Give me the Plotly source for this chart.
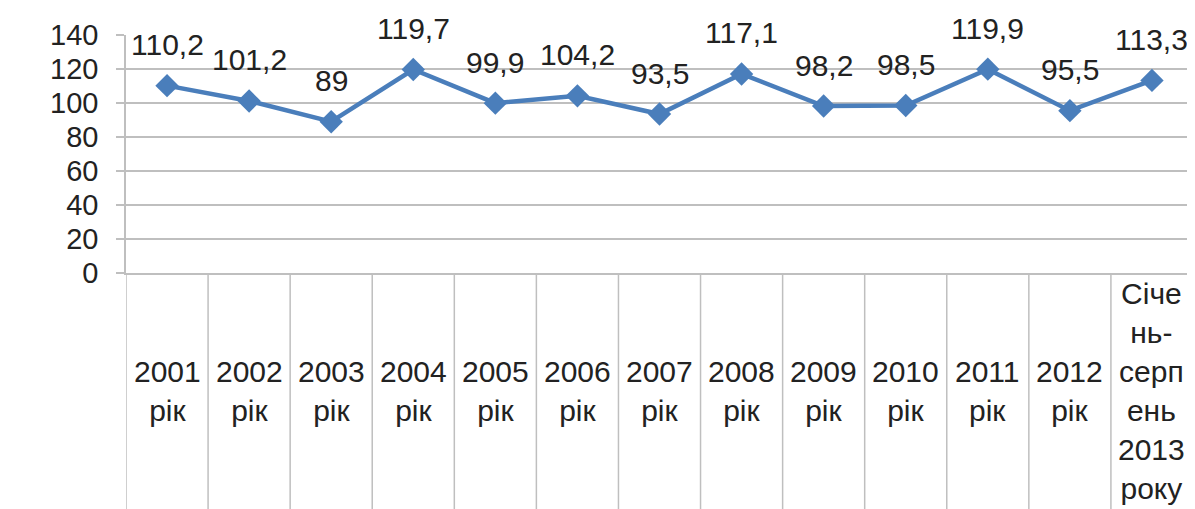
import plotly.graph_objects as go

categories = ["2001<br>рік", "2002<br>рік", "2003<br>рік", "2004<br>рік", "2005<br>рік",
              "2006<br>рік", "2007<br>рік", "2008<br>рік", "2009<br>рік", "2010<br>рік",
              "2011<br>рік", "2012<br>рік", "Січе<br>нь-<br>серп<br>ень<br>2013<br>року"]
values = [110.2, 101.2, 89, 119.7, 99.9, 104.2, 93.5, 117.1, 98.2, 98.5, 119.9, 95.5, 113.3]
value_labels = ["110,2", "101,2", "89", "119,7", "99,9", "104,2", "93,5", "117,1",
                "98,2", "98,5", "119,9", "95,5", "113,3"]
y_ticks = [0, 20, 40, 60, 80, 100, 120, 140]

# page body has an 8px default margin: size the figure to the visible window
OFF = 8
W, H = 1195 - OFF, 509 - OFF
ML, MR, MT, MB = 126 - OFF, 2, 35 - OFF, 236
plot_h = H - MT - MB
axis_bottom_px = H - MB

BLUE = "#4a7ebb"
GRID = "#bfbfbf"
TXT = "#222222"
FONT = "Liberation Sans, Arial, sans-serif"

fig = go.Figure()
fig.add_trace(go.Scatter(
    x=categories, y=values, mode="lines+markers",
    line=dict(color=BLUE, width=4.5),
    marker=dict(symbol="diamond", size=18, color=BLUE),
    cliponaxis=False, hoverinfo="skip", showlegend=False,
))

annotations = []
for c, v, t in zip(categories, values, value_labels):
    annotations.append(dict(x=c, y=v, xref="x", yref="y", text=t, showarrow=False,
                            yshift=41, yanchor="middle", xanchor="center",
                            font=dict(family=FONT, size=30, color=TXT)))
label_center = -(391 - OFF - axis_bottom_px) / plot_h
for c in categories:
    annotations.append(dict(x=c, y=label_center, xref="x", yref="paper", text=c,
                            showarrow=False, yanchor="middle", xanchor="center",
                            align="center",
                            font=dict(family=FONT, size=30, color=TXT)))

shapes = []
bottom = -(MB) / plot_h
for i in range(len(categories) + 1):
    shapes.append(dict(type="line", xref="x", yref="paper", x0=i - 0.5, x1=i - 0.5,
                       y0=0, y1=bottom, line=dict(color=GRID, width=1.5)))

fig.update_layout(
    width=W, height=H,
    margin=dict(l=ML, r=MR, t=MT, b=MB, autoexpand=False),
    paper_bgcolor="white", plot_bgcolor="white",
    font=dict(family=FONT, color=TXT),
    annotations=annotations, shapes=shapes,
    xaxis=dict(type="category", categoryorder="array", categoryarray=categories,
               range=[-0.5, len(categories) - 0.5], showticklabels=False,
               showgrid=False, zeroline=False, showline=True, linecolor=GRID,
               linewidth=1.5, ticks="", automargin=False),
    yaxis=dict(range=[0, 140], tickvals=y_ticks, showgrid=True, gridcolor=GRID,
               gridwidth=1.5, zeroline=False, showline=True, linecolor=GRID,
               linewidth=1.5, ticks="outside", ticklen=8, tickcolor=GRID,
               tickwidth=1.5, ticklabelstandoff=12, automargin=False,
               tickfont=dict(family=FONT, size=29, color=TXT)),
)

fig.write_html("out.html")
